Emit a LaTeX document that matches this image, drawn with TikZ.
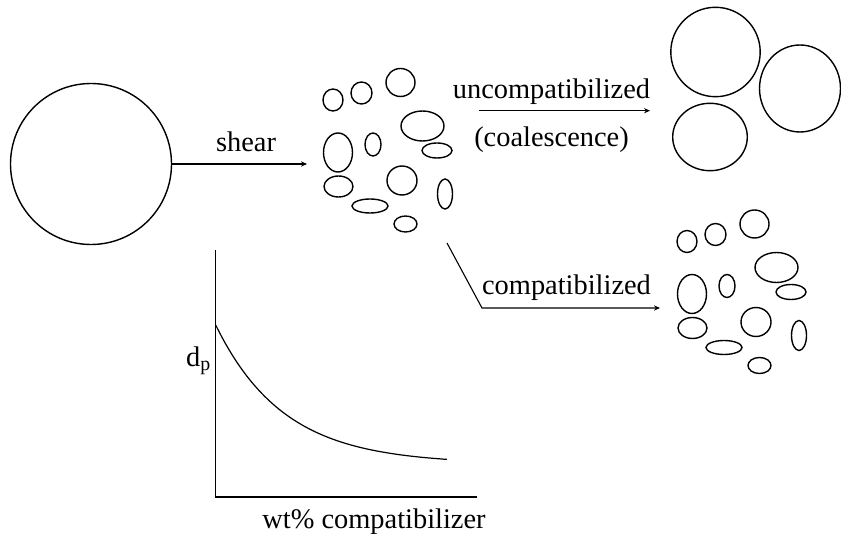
\documentclass[tikz,border=0pt]{standalone}
\usepackage{fontspec}
\setmainfont{Liberation Serif}
\usetikzlibrary{arrows.meta, positioning, calc}
% amas de gouttelettes (coordonnées en pixels)
\newcommand{\gouttes}{%
  \draw (333,100) ellipse[x radius=10, y radius=11];
  \draw (361.5,93) ellipse[x radius=10.5, y radius=11];
  \draw (400.5,82.5) ellipse[x radius=14.5, y radius=14];
  \draw (422.5,126) ellipse[x radius=21.5, y radius=15];
  \draw (338,152.5) ellipse[x radius=14.5, y radius=19.5];
  \draw (373,144.5) ellipse[x radius=8, y radius=11.5];
  \draw (437,150.5) ellipse[x radius=15, y radius=7.5];
  \draw (402,180.5) ellipse[x radius=15, y radius=14.5];
  \draw (338.5,186.5) ellipse[x radius=14.5, y radius=10.5];
  \draw (445,194) ellipse[x radius=7.5, y radius=15];
  \draw (370,206) ellipse[x radius=18, y radius=7];
  \draw (405.5,224) ellipse[x radius=11.5, y radius=8];
}

\begin{document}
\begin{tikzpicture}[x=0.5pt, y=-0.5pt, line width=0.7pt,
    fleche/.style={-{Stealth[length=3pt, width=2.6pt]}, line width=0.55pt},
    etiquette/.style={font=\fontsize{14.2}{17}\selectfont, anchor=base, inner sep=0pt}]
        \useasboundingbox (0,0) rectangle (841,534);
        % Grosse goutte
        \node[circle, draw, minimum size=80.5pt, inner sep=0pt] (goutte) at (91,164) {};
        % Cisaillement
        \coordinate (fin_shear) at (307,164);
        \draw[fleche] (goutte.east) -- (fin_shear);
        \node[etiquette] (shear) at (246,152) {shear};
        % Gouttes dispersées
        \gouttes
        \begin{scope}[shift={(354,141.5)}]
          \gouttes
        \end{scope}
        % Sans compatibilisant : coalescence
        \coordinate (debut_unc) at (479,110.7);
        \coordinate (fin_unc) at (650,110.7);
        \draw[fleche] (debut_unc) -- (fin_unc);
        \node[etiquette] (uncomp) at (551.5,99) {uncompatibilized};
        \node[etiquette] (coal) at (551.5,147) {(coalescence)};
        \draw (715.5,52) circle[radius=44.7];
        \draw (800,88.5) ellipse[x radius=40.5, y radius=43.5];
        \draw (710,137) ellipse[x radius=37.3, y radius=33.7];
        % Avec compatibilisant
        \coordinate (debut_comp) at (447,243);
        \coordinate (coude) at (482,308);
        \coordinate (fin_comp) at (660,308);
        \draw[fleche] (debut_comp) -- (coude) -- (fin_comp);
        \node[etiquette] (comp) at (566.5,295) {compatibilized};
        % Graphe d_p
        \coordinate (origine) at (215.5,497);
        \draw (215.5,250) -- (origine) -- (477,497);
        \draw[line width=0.6pt] plot[domain=0:231.3, samples=80, smooth]
          ({215.7+\x}, {464-139*exp(-\x/68)});
        \node[etiquette, anchor=base east] (dp) at (212,366) {d\textsubscript{p}};
        \node[etiquette] (wt) at (374,528) {wt\% compatibilizer};
      \end{tikzpicture}
\end{document}
